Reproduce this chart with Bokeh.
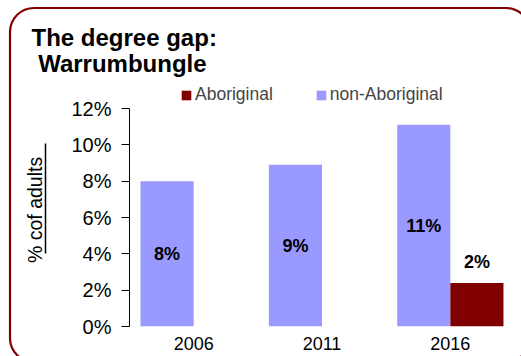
from bokeh.plotting import figure
from bokeh.models import (FactorRange, Range1d, FixedTicker, PrintfTickFormatter, ColumnDataSource,
                          Legend, LegendItem, LinearAxis)
from bokeh.transform import dodge
from bokeh.core.properties import value
from bokeh.embed import file_html
from bokeh.resources import INLINE

years = ["2006", "2011", "2016"]
non_aboriginal = [8.0, 8.9, 11.1]
aboriginal = [None, None, 2.4]
y_ticks = [0, 2, 4, 6, 8, 10, 12]
title_text = "The degree gap:\n\u00a0Warrumbungle"
series_names = ["Aboriginal", "non-Aboriginal"]
y_label = "% cof adults"

FONT = "Liberation Sans"
W, H = 521, 356
FL, FR, FB, FT = 129, 7, 30, 82
AXIS_TOP_PX = 108                         # pixel row of the 12% tick
PX_PER_UNIT = (H - FB - AXIS_TOP_PX) / 12
Y_END = 12 + (AXIS_TOP_PX - FT) / PX_PER_UNIT
LABEL_SPAN = (4.0, 10.1)                  # extent of the underlined axis title, in axis units
LABEL_PAD = "\u00a0\u00a0"                # nudges the axis title up to sit on its underline

border_svg = ("data:image/svg+xml;utf8,<svg xmlns='http://www.w3.org/2000/svg' width='521' height='356'>"
              "<rect x='10' y='8' width='520' height='354' rx='24' ry='24' fill='none' "
              "stroke='%23800000' stroke-width='2.2'/></svg>")

p = figure(width=W, height=H, x_range=FactorRange(factors=years, range_padding=0),
           y_range=Range1d(0, Y_END), output_backend="svg", toolbar_location=None,
           min_border_left=FL, min_border_right=FR, min_border_top=FT, min_border_bottom=FB,
           styles={"background-image": f'url("{border_svg}")', "background-repeat": "no-repeat"})
p.border_fill_color = None
p.background_fill_color = None
p.outline_line_color = None
p.grid.visible = False

non_src = ColumnDataSource(dict(
    x=years, top=non_aboriginal, ly=[v / 2 for v in non_aboriginal],
    txt=[f"{round(v)}%" for v in non_aboriginal]))
ab_x = [y for y, v in zip(years, aboriginal) if v is not None]
ab_v = [v for v in aboriginal if v is not None]
ab_src = ColumnDataSource(dict(
    x=ab_x, top=ab_v, ly=[v + 1.15 for v in ab_v], txt=[f"{round(v)}%" for v in ab_v]))

BW = 0.414
non_r = p.vbar(x=dodge("x", -BW / 2, range=p.x_range), top="top", width=BW, source=non_src,
               fill_color="#9999FF", line_color=None)
ab_r = p.vbar(x=dodge("x", BW / 2, range=p.x_range), top="top", width=BW, source=ab_src,
              fill_color="#800000", line_color=None)

for src, off in ((non_src, -BW / 2), (ab_src, BW / 2)):
    p.text(x=dodge("x", off, range=p.x_range), y="ly", text="txt", source=src,
           text_font=value(FONT), text_font_style="bold", text_font_size="18px",
           text_align="center", text_baseline="middle", text_color="black")

# main y axis: ticks and tick labels
ya = p.yaxis[0]
ya.ticker = FixedTicker(ticks=y_ticks)
ya.bounds = (0, 12)
ya.formatter = PrintfTickFormatter(format="%d%%")
ya.major_label_text_font = FONT
ya.major_label_text_font_size = "20px"
ya.major_label_text_color = "black"
ya.major_tick_out = 8
ya.major_tick_in = 0
ya.minor_tick_out = 0
ya.minor_tick_in = 0
ya.major_label_standoff = 10
ya.axis_line_color = "black"
ya.major_tick_line_color = "black"

# spacer axis (one white, unlabeled tick) and underline axis carrying the axis title
spacer = LinearAxis(ticker=FixedTicker(ticks=[0]), axis_line_color=None, major_tick_out=23,
                    major_tick_in=0, minor_tick_out=0, minor_tick_in=0,
                    major_tick_line_color="white", minor_tick_line_color=None,
                    major_label_overrides={0: ""}, major_label_standoff=0)
title_axis = LinearAxis(ticker=FixedTicker(ticks=[]), axis_line_color="black", axis_line_width=1.5,
                        bounds=LABEL_SPAN, major_tick_out=0, major_tick_in=0, minor_tick_out=0,
                        minor_tick_in=0, major_tick_line_color=None, minor_tick_line_color=None,
                        axis_label=y_label + LABEL_PAD, axis_label_text_font=FONT,
                        axis_label_text_font_size="19.5px", axis_label_text_font_style="normal",
                        axis_label_text_color="black", axis_label_standoff=0)
p.add_layout(spacer, "left")
p.add_layout(title_axis, "left")

p.xaxis.axis_line_color = None
p.xaxis.major_tick_line_color = None
p.xaxis.major_tick_out = 0
p.xaxis.major_tick_in = 0
p.xaxis.major_label_text_font = FONT
p.xaxis.major_label_text_font_size = "18px"
p.xaxis.major_label_text_color = "black"
p.xaxis.major_label_standoff = 10

# legend (inside the extended plot area, above the 12% line)
LEG_TOP, LEG_H = 86, 19
legend = Legend(items=[LegendItem(label=series_names[0], renderers=[ab_r]),
                       LegendItem(label=series_names[1], renderers=[non_r])],
                orientation="horizontal", location=(180 - FL, H - FB - LEG_TOP - LEG_H),
                padding=0, margin=0, spacing=42, glyph_width=12, glyph_height=12,
                label_standoff=3, label_text_font=FONT, label_text_font_size="17.5px",
                border_line_color=None, background_fill_alpha=0)
p.add_layout(legend)

# title
p.title.text = title_text
p.title.text_font = FONT
p.title.text_font_size = "24px"
p.title.text_font_style = "bold"
p.title.text_color = "black"
p.title.align = "left"
p.title.vertical_align = "bottom"
p.title.offset = 31 - FL
p.title.standoff = 10
p.title.text_line_height = 0.97

open("out.html", "w").write(file_html(p, INLINE))
